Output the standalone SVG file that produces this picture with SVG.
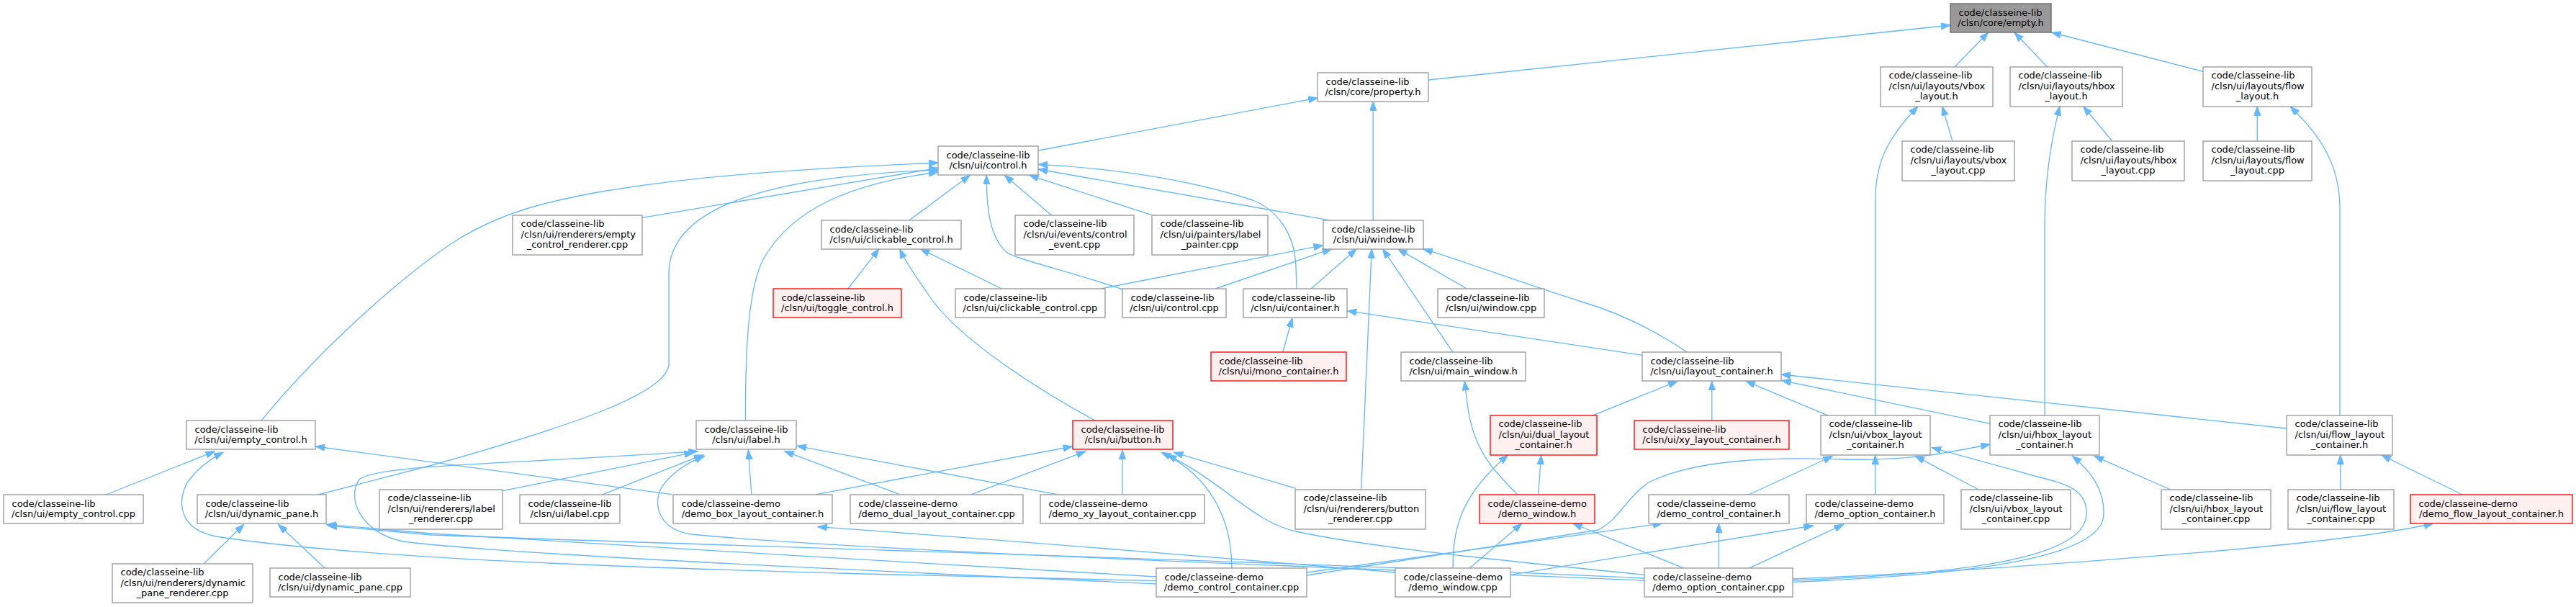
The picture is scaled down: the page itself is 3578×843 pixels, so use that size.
<svg xmlns="http://www.w3.org/2000/svg" width="3578" height="843" viewBox="0 0 3578 843">
<defs>
<marker id="ah" markerUnits="userSpaceOnUse" markerWidth="14" markerHeight="10" refX="13" refY="4.7" orient="auto">
<path d="M0,0 L13,4.7 L0,9.4 z" fill="#63b8ff" stroke="#63b8ff" stroke-width="1"/>
</marker>
<style>
rect{fill:#ffffff;stroke:#999999;stroke-width:1.33}
.r rect{fill:#fff0f0;stroke:#ff0000}
.t rect{fill:#999999;stroke:#666666}
text{font-family:"DejaVu Sans","Liberation Sans",sans-serif;font-size:13px;fill:#000000}
.c{text-anchor:middle}
#edges path{fill:none;stroke:#63b8ff;stroke-width:1.33;marker-end:url(#ah)}
</style>
</defs>
<rect x="0" y="0" width="3578" height="843" style="fill:#ffffff;stroke:none"/>
<g id="edges">
<path d="M1984,111 L2709,35"/>
<path d="M2714.6,93.3 L2761.6,45"/>
<path d="M2843.9,93.3 L2798,45"/>
<path d="M3059.7,99.3 L2849.6,45"/>
<path d="M1442.2,209 L1830.2,136"/>
<path d="M1907.2,305.7 L1907.2,140.7"/>
<path d="M2711.9,196 L2697.7,147.7"/>
<path d="M2604.7,577.3 L2604.7,280 C2604.7,230 2618,195 2664,147.7"/>
<path d="M2933.8,196 L2893.6,147.7"/>
<path d="M2840,577.3 L2840,310 C2840,250 2850,190 2861,147.7"/>
<path d="M3135.3,196 L3135.3,147.7"/>
<path d="M3250,577.3 L3250,290 C3250,230 3225,190 3181,148"/>
<path d="M362.8,584.3 C440,490 560,380 640,330 C700,295 750,282 830,267 C960,245 1100,235 1303,226"/>
<path d="M892,302.3 L1303,233.3"/>
<path d="M442,687 L600,646 C800,590 929,545 929,505 L929,380 C929,290 1060,245 1303,236"/>
<path d="M1035.5,584.3 C1035,480 1040,400 1060,360 C1100,290 1180,255 1303,239"/>
<path d="M1263.1,305.7 L1347.3,243.3"/>
<path d="M1560,402 C1480,375 1410,360 1398,350 C1375,330 1370,290 1370.3,243.3"/>
<path d="M1460.2,298.7 L1395.2,243.3"/>
<path d="M1599.9,298.7 L1429.6,243.3"/>
<path d="M1845,305.7 L1442.2,235"/>
<path d="M1801,401 L1800,370 C1798,320 1770,290 1740,278 C1640,245 1520,232 1442.2,228.3"/>
<path d="M1529,401 L1837.5,340.7"/>
<path d="M1688,401 L1849.7,345.7"/>
<path d="M1821,401 L1884.2,345.7"/>
<path d="M1890.7,680 L1905.2,345.7"/>
<path d="M2018.1,489.3 L1920.5,345.7"/>
<path d="M2037.3,401 L1941.6,345.7"/>
<path d="M2343.4,489.3 C2300,460 2250,435 2200,420 C2120,395 2040,365 1976.8,345.7"/>
<path d="M1177.8,401 L1221,345.7"/>
<path d="M1521.4,584.3 C1440,540 1330,470 1290,410 C1270,380 1258,365 1249.7,345.7"/>
<path d="M1391.3,401 L1278.4,345.7"/>
<path d="M1781.7,489.3 L1795,441.7"/>
<path d="M2281.4,493.3 L1871.2,431.7"/>
<path d="M2211.3,577.3 L2330,529.3"/>
<path d="M2377.8,584.3 L2377.8,529.3"/>
<path d="M2539.7,577.3 L2424.9,529.3"/>
<path d="M2764.3,588.3 L2474.6,528.3"/>
<path d="M3176.2,595 L2473.9,520"/>
<path d="M2108,687 C2070,650 2045,620 2038,560 L2034.2,529.3"/>
<path d="M2136.7,687 L2140.6,632"/>
<path d="M2018.1,789.3 C2018,740 2025,690 2094.7,632"/>
<path d="M2041,789.3 L2113.8,727"/>
<path d="M2339.6,789.3 L2184.6,727"/>
<path d="M1815.3,795 L2309,727"/>
<path d="M2387.4,789.3 L2387.4,727"/>
<path d="M1815.3,799 L2220,736 C2250,720 2260,690 2290,670 C2360,635 2480,635 2560,638 C2650,640 2700,630 2764.3,617"/>
<path d="M2097.7,798.3 L2518.6,730"/>
<path d="M2428.7,789.3 L2560.7,728.3"/>
<path d="M2428.7,687 L2545.4,633.3"/>
<path d="M2604.7,687 L2604.7,632"/>
<path d="M2748.2,680 L2660.2,633.3"/>
<path d="M2490,806 C2700,798 2895,780 2898,715 C2900,680 2870,672 2830,662 L2683.2,621.7"/>
<path d="M2490,808.3 C2700,800 2920,780 2922,715 C2923,680 2905,655 2878.3,633.3"/>
<path d="M3014.7,680 L2908.9,633.3"/>
<path d="M3250.7,680 L3250.7,632"/>
<path d="M3420.2,687 L3307.8,632"/>
<path d="M2490,804 C2700,795 2900,780 3000,771.7 C3150,760 3300,745 3379.7,727"/>
<path d="M147.3,687 L298.5,626.7"/>
<path d="M932.9,686.7 L438.1,620"/>
<path d="M1606.4,806.7 L1200,797 C900,789 500,776 300,745 C250,735 245,700 260,670 C275,650 290,638 310,628.3"/>
<path d="M283.2,782.7 L338.7,728.3"/>
<path d="M451.5,789.3 L386.5,728.3"/>
<path d="M1606.4,801 C1300,783 900,760 600,741 L453.5,728.3"/>
<path d="M2284.4,803 C1800,780 1000,758 600,743 L455,730"/>
<path d="M698,681.7 L963.5,628.3"/>
<path d="M837.2,686.7 L976.9,631.7"/>
<path d="M1043.9,686.7 L1039.3,625"/>
<path d="M1249.7,686.7 L1089.8,626.7"/>
<path d="M1467.9,686.7 L1107,619.3"/>
<path d="M1606.4,811 C1200,792 700,770 560,752 C500,740 480,690 500,665 C530,645 700,645 969.3,626.7"/>
<path d="M2284.4,806 C1800,786 1200,765 960,742 C915,735 905,700 920,675 C935,655 955,642 978.8,633.3"/>
<path d="M1133.8,686.7 L1489.7,620"/>
<path d="M1349.2,686.7 L1508,626.7"/>
<path d="M1559,686.7 L1559,625"/>
<path d="M1800,678.3 L1630.5,628.3"/>
<path d="M1710.9,789.3 C1711,720 1680,660 1613.3,628.3"/>
<path d="M2284.4,798.3 C2100,780 1900,760 1800,738 C1740,725 1700,670 1621,631.7"/>
<path d="M1937.8,795 C1700,775 1400,750 1135.7,731.7"/>
</g>
<g id="n_empty" class="t"><rect x="2709" y="5" width="140" height="40"/><text x="2720.5" y="21.5">code/classeine-lib</text><text class="c" x="2779" y="36.2">/clsn/core/empty.h</text></g>
<g id="n_property"><rect x="1830" y="101" width="154" height="40"/><text x="1841.5" y="117.5">code/classeine-lib</text><text class="c" x="1907" y="132.2">/clsn/core/property.h</text></g>
<g id="n_vbox_layout_h"><rect x="2612" y="93" width="156" height="55"/><text x="2623.5" y="108.8">code/classeine-lib</text><text x="2623.5" y="123.5">/clsn/ui/layouts/vbox</text><text class="c" x="2690" y="138.2">_layout.h</text></g>
<g id="n_hbox_layout_h"><rect x="2792" y="93" width="156" height="55"/><text x="2803.5" y="108.8">code/classeine-lib</text><text x="2803.5" y="123.5">/clsn/ui/layouts/hbox</text><text class="c" x="2870" y="138.2">_layout.h</text></g>
<g id="n_flow_layout_h"><rect x="3060" y="93" width="151" height="55"/><text x="3071.5" y="108.8">code/classeine-lib</text><text x="3071.5" y="123.5">/clsn/ui/layouts/flow</text><text class="c" x="3135.5" y="138.2">_layout.h</text></g>
<g id="n_vbox_layout_cpp"><rect x="2642" y="196" width="156" height="55"/><text x="2653.5" y="211.8">code/classeine-lib</text><text x="2653.5" y="226.5">/clsn/ui/layouts/vbox</text><text class="c" x="2720" y="241.2">_layout.cpp</text></g>
<g id="n_hbox_layout_cpp"><rect x="2878" y="196" width="156" height="55"/><text x="2889.5" y="211.8">code/classeine-lib</text><text x="2889.5" y="226.5">/clsn/ui/layouts/hbox</text><text class="c" x="2956" y="241.2">_layout.cpp</text></g>
<g id="n_flow_layout_cpp"><rect x="3060" y="196" width="151" height="55"/><text x="3071.5" y="211.8">code/classeine-lib</text><text x="3071.5" y="226.5">/clsn/ui/layouts/flow</text><text class="c" x="3135.5" y="241.2">_layout.cpp</text></g>
<g id="n_control_h"><rect x="1303" y="203" width="139" height="40"/><text x="1314.5" y="219.5">code/classeine-lib</text><text class="c" x="1372.5" y="234.2">/clsn/ui/control.h</text></g>
<g id="n_window_h"><rect x="1838" y="306" width="139" height="40"/><text x="1849.5" y="322.5">code/classeine-lib</text><text class="c" x="1907.5" y="337.2">/clsn/ui/window.h</text></g>
<g id="n_empty_control_renderer"><rect x="712" y="299" width="180" height="55"/><text x="723.5" y="314.8">code/classeine-lib</text><text x="723.5" y="329.5">/clsn/ui/renderers/empty</text><text class="c" x="802" y="344.2">_control_renderer.cpp</text></g>
<g id="n_clickable_control_h"><rect x="1141" y="306" width="194" height="40"/><text x="1152.5" y="322.5">code/classeine-lib</text><text class="c" x="1238" y="337.2">/clsn/ui/clickable_control.h</text></g>
<g id="n_control_event"><rect x="1410" y="299" width="165" height="55"/><text x="1421.5" y="314.8">code/classeine-lib</text><text x="1421.5" y="329.5">/clsn/ui/events/control</text><text class="c" x="1492.5" y="344.2">_event.cpp</text></g>
<g id="n_label_painter"><rect x="1600" y="299" width="161" height="55"/><text x="1611.5" y="314.8">code/classeine-lib</text><text x="1611.5" y="329.5">/clsn/ui/painters/label</text><text class="c" x="1680.5" y="344.2">_painter.cpp</text></g>
<g id="n_toggle_control_h" class="r"><rect x="1074" y="401" width="178" height="40"/><text x="1085.5" y="417.5">code/classeine-lib</text><text class="c" x="1163" y="432.2">/clsn/ui/toggle_control.h</text></g>
<g id="n_clickable_control_cpp"><rect x="1327" y="401" width="208" height="40"/><text x="1338.5" y="417.5">code/classeine-lib</text><text class="c" x="1431" y="432.2">/clsn/ui/clickable_control.cpp</text></g>
<g id="n_control_cpp"><rect x="1559" y="401" width="144" height="40"/><text x="1570.5" y="417.5">code/classeine-lib</text><text class="c" x="1631" y="432.2">/clsn/ui/control.cpp</text></g>
<g id="n_container_h"><rect x="1727" y="401" width="144" height="40"/><text x="1738.5" y="417.5">code/classeine-lib</text><text class="c" x="1799" y="432.2">/clsn/ui/container.h</text></g>
<g id="n_window_cpp"><rect x="1997" y="401" width="148" height="40"/><text x="2008.5" y="417.5">code/classeine-lib</text><text class="c" x="2071" y="432.2">/clsn/ui/window.cpp</text></g>
<g id="n_mono_container_h" class="r"><rect x="1682" y="489" width="188" height="40"/><text x="1693.5" y="505.5">code/classeine-lib</text><text class="c" x="1776" y="520.2">/clsn/ui/mono_container.h</text></g>
<g id="n_main_window_h"><rect x="1946" y="489" width="173" height="40"/><text x="1957.5" y="505.5">code/classeine-lib</text><text class="c" x="2032.5" y="520.2">/clsn/ui/main_window.h</text></g>
<g id="n_layout_container_h"><rect x="2281" y="489" width="193" height="40"/><text x="2292.5" y="505.5">code/classeine-lib</text><text class="c" x="2377.5" y="520.2">/clsn/ui/layout_container.h</text></g>
<g id="n_empty_control_h"><rect x="259" y="584" width="179" height="40"/><text x="270.5" y="600.5">code/classeine-lib</text><text class="c" x="348.5" y="615.2">/clsn/ui/empty_control.h</text></g>
<g id="n_label_h"><rect x="967" y="584" width="139" height="40"/><text x="978.5" y="600.5">code/classeine-lib</text><text class="c" x="1036.5" y="615.2">/clsn/ui/label.h</text></g>
<g id="n_button_h" class="r"><rect x="1490" y="584" width="139" height="40"/><text x="1501.5" y="600.5">code/classeine-lib</text><text class="c" x="1559.5" y="615.2">/clsn/ui/button.h</text></g>
<g id="n_dual_layout_container_h" class="r"><rect x="2070" y="577" width="148" height="55"/><text x="2081.5" y="592.8">code/classeine-lib</text><text x="2081.5" y="607.5">/clsn/ui/dual_layout</text><text class="c" x="2144" y="622.2">_container.h</text></g>
<g id="n_xy_layout_container_h" class="r"><rect x="2270" y="584" width="215" height="40"/><text x="2281.5" y="600.5">code/classeine-lib</text><text class="c" x="2377.5" y="615.2">/clsn/ui/xy_layout_container.h</text></g>
<g id="n_vbox_layout_container_h"><rect x="2529" y="577" width="152" height="55"/><text x="2540.5" y="592.8">code/classeine-lib</text><text x="2540.5" y="607.5">/clsn/ui/vbox_layout</text><text class="c" x="2605" y="622.2">_container.h</text></g>
<g id="n_hbox_layout_container_h"><rect x="2764" y="577" width="152" height="55"/><text x="2775.5" y="592.8">code/classeine-lib</text><text x="2775.5" y="607.5">/clsn/ui/hbox_layout</text><text class="c" x="2840" y="622.2">_container.h</text></g>
<g id="n_flow_layout_container_h"><rect x="3176" y="577" width="147" height="55"/><text x="3187.5" y="592.8">code/classeine-lib</text><text x="3187.5" y="607.5">/clsn/ui/flow_layout</text><text class="c" x="3249.5" y="622.2">_container.h</text></g>
<g id="n_empty_control_cpp"><rect x="5" y="687" width="194" height="40"/><text x="16.5" y="703.5">code/classeine-lib</text><text class="c" x="102" y="718.2">/clsn/ui/empty_control.cpp</text></g>
<g id="n_dynamic_pane_h"><rect x="274" y="687" width="179" height="40"/><text x="285.5" y="703.5">code/classeine-lib</text><text class="c" x="363.5" y="718.2">/clsn/ui/dynamic_pane.h</text></g>
<g id="n_label_renderer"><rect x="527" y="680" width="171" height="55"/><text x="538.5" y="695.8">code/classeine-lib</text><text x="538.5" y="710.5">/clsn/ui/renderers/label</text><text class="c" x="612.5" y="725.2">_renderer.cpp</text></g>
<g id="n_label_cpp"><rect x="722" y="687" width="139" height="40"/><text x="733.5" y="703.5">code/classeine-lib</text><text class="c" x="791.5" y="718.2">/clsn/ui/label.cpp</text></g>
<g id="n_demo_box_layout_container_h"><rect x="935" y="687" width="221" height="40"/><text x="946.5" y="703.5">code/classeine-demo</text><text class="c" x="1045.5" y="718.2">/demo_box_layout_container.h</text></g>
<g id="n_demo_dual_layout_container_cpp"><rect x="1181" y="687" width="240" height="40"/><text x="1192.5" y="703.5">code/classeine-demo</text><text class="c" x="1301" y="718.2">/demo_dual_layout_container.cpp</text></g>
<g id="n_demo_xy_layout_container_cpp"><rect x="1445" y="687" width="228" height="40"/><text x="1456.5" y="703.5">code/classeine-demo</text><text class="c" x="1559" y="718.2">/demo_xy_layout_container.cpp</text></g>
<g id="n_button_renderer"><rect x="1799" y="680" width="181" height="55"/><text x="1810.5" y="695.8">code/classeine-lib</text><text x="1810.5" y="710.5">/clsn/ui/renderers/button</text><text class="c" x="1889.5" y="725.2">_renderer.cpp</text></g>
<g id="n_demo_window_h" class="r"><rect x="2055" y="687" width="160" height="40"/><text x="2066.5" y="703.5">code/classeine-demo</text><text class="c" x="2135" y="718.2">/demo_window.h</text></g>
<g id="n_demo_control_container_h"><rect x="2290" y="687" width="195" height="40"/><text x="2301.5" y="703.5">code/classeine-demo</text><text class="c" x="2387.5" y="718.2">/demo_control_container.h</text></g>
<g id="n_demo_option_container_h"><rect x="2509" y="687" width="191" height="40"/><text x="2520.5" y="703.5">code/classeine-demo</text><text class="c" x="2604.5" y="718.2">/demo_option_container.h</text></g>
<g id="n_vbox_layout_container_cpp"><rect x="2724" y="680" width="152" height="55"/><text x="2735.5" y="695.8">code/classeine-lib</text><text x="2735.5" y="710.5">/clsn/ui/vbox_layout</text><text class="c" x="2800" y="725.2">_container.cpp</text></g>
<g id="n_hbox_layout_container_cpp"><rect x="3002" y="680" width="152" height="55"/><text x="3013.5" y="695.8">code/classeine-lib</text><text x="3013.5" y="710.5">/clsn/ui/hbox_layout</text><text class="c" x="3078" y="725.2">_container.cpp</text></g>
<g id="n_flow_layout_container_cpp"><rect x="3178" y="680" width="147" height="55"/><text x="3189.5" y="695.8">code/classeine-lib</text><text x="3189.5" y="710.5">/clsn/ui/flow_layout</text><text class="c" x="3251.5" y="725.2">_container.cpp</text></g>
<g id="n_demo_flow_layout_container_h" class="r"><rect x="3348" y="687" width="225" height="40"/><text x="3359.5" y="703.5">code/classeine-demo</text><text class="c" x="3460.5" y="718.2">/demo_flow_layout_container.h</text></g>
<g id="n_dynamic_pane_renderer"><rect x="156" y="783" width="195" height="54"/><text x="167.5" y="798.8">code/classeine-lib</text><text x="167.5" y="813.5">/clsn/ui/renderers/dynamic</text><text class="c" x="253.5" y="828.2">_pane_renderer.cpp</text></g>
<g id="n_dynamic_pane_cpp"><rect x="375" y="789" width="195" height="40"/><text x="386.5" y="805.5">code/classeine-lib</text><text class="c" x="472.5" y="820.2">/clsn/ui/dynamic_pane.cpp</text></g>
<g id="n_demo_control_container_cpp"><rect x="1606" y="789" width="209" height="40"/><text x="1617.5" y="805.5">code/classeine-demo</text><text class="c" x="1710.5" y="820.2">/demo_control_container.cpp</text></g>
<g id="n_demo_window_cpp"><rect x="1938" y="789" width="160" height="40"/><text x="1949.5" y="805.5">code/classeine-demo</text><text class="c" x="2018" y="820.2">/demo_window.cpp</text></g>
<g id="n_demo_option_container_cpp"><rect x="2284" y="789" width="206" height="40"/><text x="2295.5" y="805.5">code/classeine-demo</text><text class="c" x="2387" y="820.2">/demo_option_container.cpp</text></g>
</svg>
